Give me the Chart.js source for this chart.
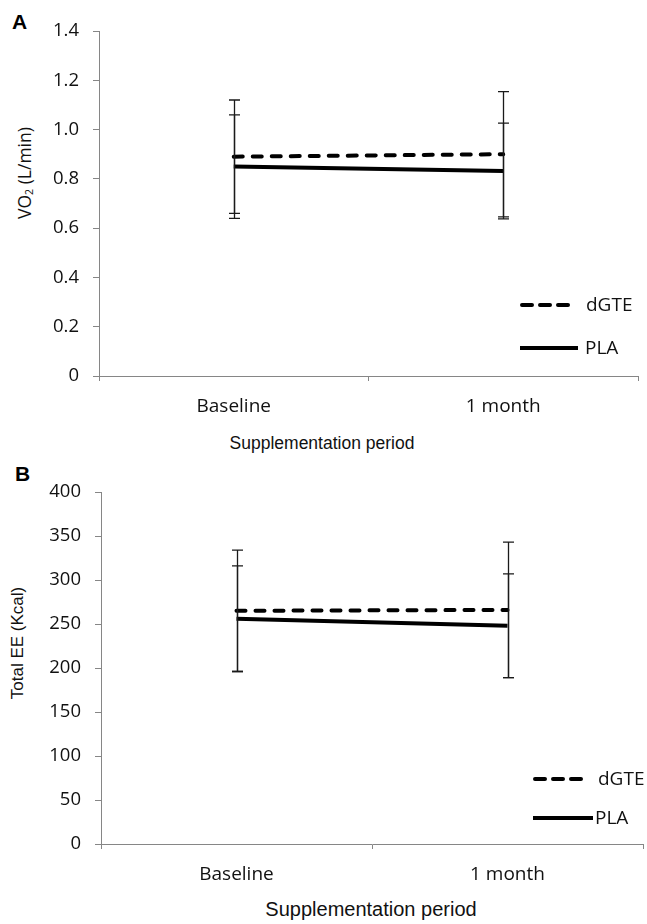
<!DOCTYPE html>
<html>
<head>
<meta charset="utf-8">
<script src="https://cdn.jsdelivr.net/npm/chart.js@4.4.0/dist/chart.umd.min.js"></script>
<style>
    body { margin: 0; background: #fff; }
    #page { position: relative; width: 647px; height: 924px; overflow: hidden; background: #fff; }
    .panel { position: absolute; left: 0; }
    .tag { position: absolute; font: bold 21px "Liberation Sans", Arial, sans-serif; line-height: 21px; color: #000; }
    .ytitle, .xtitle { position: absolute; white-space: nowrap; color: #111; line-height: 1.2; }
    .ytitle { transform: translate(-50%, -50%) rotate(-90deg); }
    .xtitle { transform: translate(-50%, -50%); font-family: "Liberation Sans", Arial, sans-serif; }
    .ytitle sub { font-size: 0.6em; vertical-align: -0.15em; }
</style>
</head>
<body>
<div id="page">
    <div class="tag" style="left:12px; top:11px;">A</div>
    <div class="tag" style="left:15px; top:463px;">B</div>
    <div class="ytitle" style="left:25px; top:173px; font-family:'Open Sans', sans-serif; font-size:17.5px;">VO<sub>2</sub> (L/min)</div>
    <div class="ytitle" style="left:18px; top:643px; font-family:'Liberation Sans', Arial, sans-serif; font-size:17px;">Total EE (Kcal)</div>
    <div class="xtitle" style="left:322px; top:443px; font-size:17.5px;">Supplementation period</div>
    <div class="xtitle" style="left:371px; top:909px; font-size:20px;">Supplementation period</div>
    <canvas id="chartA" class="panel" style="top:0" width="647" height="460"></canvas>
    <canvas id="chartB" class="panel" style="top:460px" width="647" height="464"></canvas>
</div>

<script>
// Supplementation periods (x categories)
const periods = ['Baseline', '1 month'];

// Panel A - VO2 (L/min), mean and SD
const vo2Dgte = [0.89, 0.90];
const vo2DgteErr = [0.23, 0.254];
const vo2Pla = [0.85, 0.832];
const vo2PlaErr = [0.21, 0.194];

// Panel B - Total EE (Kcal), mean and SD
const eeDgte = [265, 266];
const eeDgteErr = [69, 77];
const eePla = [256, 248];
const eePlaErr = [60, 59];

// Axis ranges
const vo2Axis = { min: 0, max: 1.4, step: 0.2 };
const eeAxis = { min: 0, max: 400, step: 50 };

const AXIS_GREY = '#868686';
const TEXT = '#111';
const TICK_FONT = 'Open Sans';

// Draws the SD whiskers for every dataset, using the chart's own scales
const errorBars = {
    id: 'errorBars',
    afterDatasetsDraw(chart) {
        const { ctx, scales: { x, y } } = chart;
        ctx.save();
        ctx.strokeStyle = '#1a1a1a';
        ctx.lineWidth = 1.3;
        ctx.setLineDash([]);
        chart.data.datasets.forEach(ds => {
            ds.data.forEach((v, i) => {
                const e = ds.errors[i];
                const px = Math.round(x.getPixelForValue(i)) + 0.5;
                const top = y.getPixelForValue(v + e);
                const bot = y.getPixelForValue(v - e);
                ctx.beginPath();
                ctx.moveTo(px, top);
                ctx.lineTo(px, bot);
                ctx.moveTo(px - 5.5, top);
                ctx.lineTo(px + 5.5, top);
                ctx.moveTo(px - 5.5, bot);
                ctx.lineTo(px + 5.5, bot);
                ctx.stroke();
            });
        });
        ctx.restore();
    }
};

// Legend sitting inside the plot, lower right
const insideLegend = {
    id: 'insideLegend',
    afterDraw(chart, args, opts) {
        const { ctx, chartArea } = chart;
        ctx.save();
        ctx.font = '19px "' + TICK_FONT + '", sans-serif';
        ctx.fillStyle = TEXT;
        ctx.textBaseline = 'middle';
        chart.data.datasets.forEach((ds, i) => {
            const x0 = chartArea.right - opts.right;
            const y0 = chartArea.bottom - opts.rows[i];
            ctx.strokeStyle = ds.borderColor;
            ctx.lineWidth = ds.borderWidth;
            ctx.lineCap = ds.borderDash ? 'round' : 'butt';
            ctx.setLineDash(ds.borderDash ? [10, 8] : []);
            ctx.beginPath();
            ctx.moveTo(x0 + (ds.borderDash ? 2 : 0), y0);
            ctx.lineTo(x0 + opts.lineLen[i], y0);
            ctx.stroke();
            ctx.fillText(ds.label, x0 + opts.textOffset[i], y0 + 1);
        });
        ctx.restore();
    }
};

function makeChart(id, dgte, dgteErr, pla, plaErr, axis, layout) {
    const ctx = document.getElementById(id).getContext('2d');
    return new Chart(ctx, {
        type: 'line',
        data: {
            labels: periods,
            datasets: [{
                label: 'dGTE',
                data: dgte,
                errors: dgteErr,
                borderColor: '#000',
                borderWidth: 4,
                borderDash: [9, 10],
                borderCapStyle: 'round',
                pointRadius: 0,
                fill: false
            }, {
                label: 'PLA',
                data: pla,
                errors: plaErr,
                borderColor: '#000',
                borderWidth: 4,
                pointRadius: 0,
                fill: false
            }]
        },
        options: {
            responsive: false,
            animation: false,
            layout: { padding: { left: 0, top: layout.top, right: layout.right, bottom: 0 } },
            scales: {
                x: {
                    offset: true,
                    grid: { offset: true, drawOnChartArea: false, tickLength: 5, color: AXIS_GREY },
                    border: { color: AXIS_GREY, width: 1 },
                    ticks: { padding: 14, color: TEXT, font: { family: TICK_FONT, size: 19 } },
                    afterFit: s => { s.height = layout.xHeight; }
                },
                y: {
                    min: axis.min,
                    max: axis.max,
                    grid: { drawOnChartArea: false, tickLength: 6, color: AXIS_GREY },
                    border: { color: AXIS_GREY, width: 1 },
                    ticks: {
                        stepSize: axis.step,
                        padding: 14,
                        color: TEXT,
                        font: { family: TICK_FONT, size: 18.5 },
                        callback: v => (axis.step < 1 && v !== 0) ? v.toFixed(1) : String(Math.round(v))
                    },
                    afterFit: s => { s.width = layout.yWidth; }
                }
            },
            plugins: {
                legend: { display: false },
                tooltip: { enabled: false },
                insideLegend: layout.legend
            }
        },
        plugins: [errorBars, insideLegend]
    });
}

makeChart('chartA', vo2Dgte, vo2DgteErr, vo2Pla, vo2PlaErr, vo2Axis, {
    top: 31, right: 9, yWidth: 99, xHeight: 84,
    legend: { right: 118, rows: [71, 28], lineLen: [52, 58], textOffset: [66, 65] }
});

makeChart('chartB', eeDgte, eeDgteErr, eePla, eePlaErr, eeAxis, {
    top: 32, right: 4, yWidth: 101, xHeight: 80,
    legend: { right: 110, rows: [65, 26], lineLen: [52, 60], textOffset: [65, 62] }
});
</script>
</body>
</html>
